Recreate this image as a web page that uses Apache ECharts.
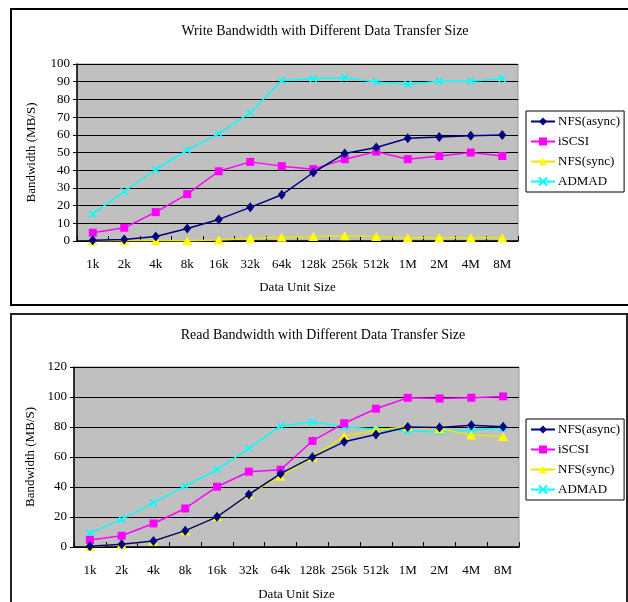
<!DOCTYPE html>
<html>
<head>
<meta charset="utf-8">
<script src="https://cdn.jsdelivr.net/npm/echarts@6/dist/echarts.min.js"></script>
<style>html,body{margin:0;padding:0;background:#fff;}#c{width:628px;height:602px;}</style>
</head>
<body>
<div id="c"></div>
<script>
const categories = ['1k','2k','4k','8k','16k','32k','64k','128k','256k','512k','1M','2M','4M','8M'];
const seriesNames = ['NFS(async)','iSCSI','NFS(sync)','ADMAD'];

// Write bandwidth (MB/S)
const writeNfsAsync = [0.4, 0.9, 2.6, 7.1, 12.2, 19.0, 26.1, 38.7, 49.4, 52.8, 58.0, 58.8, 59.5, 59.9];
const writeIscsi    = [4.7, 7.5, 16.3, 26.5, 39.4, 44.7, 42.3, 40.6, 46.2, 50.5, 46.2, 48.0, 50.0, 48.0];
const writeNfsSync  = [0.2, 0.3, 0.3, 0.2, 0.6, 1.5, 2.1, 2.6, 3.0, 2.6, 1.9, 1.9, 1.9, 1.9];
const writeAdmad    = [15.2, 28.0, 40.4, 51.3, 60.7, 72.5, 90.7, 91.7, 92.2, 89.8, 88.5, 90.3, 90.3, 91.7];

// Read bandwidth (MB/S)
const readNfsAsync = [0.5, 1.8, 4.0, 10.9, 20.1, 35.0, 48.9, 59.9, 70.1, 75.0, 80.0, 79.6, 81.1, 80.2];
const readIscsi    = [4.7, 7.5, 15.7, 25.7, 40.2, 50.2, 51.5, 70.7, 82.5, 92.2, 99.5, 99.0, 99.5, 100.4];
const readNfsSync  = [0.3, 1.8, 4.0, 10.9, 20.1, 35.0, 47.1, 59.9, 73.8, 78.0, 80.2, 78.9, 74.7, 73.6];
const readAdmad    = [9.1, 18.4, 29.4, 40.7, 51.5, 65.7, 80.7, 83.3, 80.2, 78.5, 77.4, 76.7, 77.8, 79.1];

const writeTicks = {min: 0, max: 100, interval: 10};
const readTicks = {min: 0, max: 120, interval: 20};

const FONT = '"Liberation Serif", "DejaVu Serif", serif';
const colors = ['#000080', '#FF00FF', '#FFFF00', '#00FFFF'];
const symbols = ['diamond', 'rect', 'triangle', 'path://M0,0L10,10M10,0L0,10'];
const symbolSizes = [[8, 10], 8, [10, 9], 7];

function mkSeries(name, idx, data, axisIdx) {
  const isX = idx === 3;
  return {
    name: name,
    type: 'line',
    xAxisIndex: axisIdx,
    yAxisIndex: axisIdx,
    data: data,
    symbol: symbols[idx],
    symbolSize: symbolSizes[idx],
    showAllSymbol: true,
    animation: false,
    z: 10 - idx,
    lineStyle: {color: idx === 2 ? '#E8E800' : colors[idx], width: 1.5},
    itemStyle: isX ? {color: 'rgba(0,0,0,0)', borderColor: colors[idx], borderWidth: 1.5}
                   : {color: colors[idx], borderWidth: 0},
    emphasis: {disabled: true}
  };
}

function mkX(gi) {
  return {
    type: 'category', gridIndex: gi, data: categories, boundaryGap: true,
    name: 'Data Unit Size', nameLocation: 'middle', nameGap: gi === 0 ? 40 : 41,
    nameTextStyle: {fontFamily: FONT, fontSize: 13, color: '#000'},
    axisLine: {show: true, lineStyle: {color: '#000', width: 1.5}},
    axisTick: {show: true, inside: true, length: 5, alignWithLabel: false, lineStyle: {color: '#000'}},
    axisLabel: {fontFamily: FONT, fontSize: 13, color: '#000', margin: 17, interval: 0},
    splitLine: {show: false}
  };
}

function mkY(gi, t) {
  return {
    type: 'value', gridIndex: gi, min: t.min, max: t.max, interval: t.interval,
    name: 'Bandwidth (MB/S)', nameLocation: 'middle', nameGap: gi === 0 ? 39 : 36,
    nameTextStyle: {fontFamily: FONT, fontSize: 13, color: '#000'},
    axisLine: {show: true, lineStyle: {color: '#000', width: 1.5}},
    axisTick: {show: true, length: 4, lineStyle: {color: '#000'}},
    axisLabel: {fontFamily: FONT, fontSize: 13, color: '#000', margin: 7},
    splitLine: {show: true, lineStyle: {color: '#000', width: 1}}
  };
}

function mkLegend(top) {
  return {
    orient: 'vertical', left: 526, top: top,
    data: seriesNames,
    itemWidth: 24, itemHeight: 10, itemGap: 7,
    padding: [4, 4, 4, 4],
    borderColor: '#000', borderWidth: 1, backgroundColor: '#fff',
    selectedMode: false,
    textStyle: {fontFamily: FONT, fontSize: 13, color: '#000', padding: [0, 0, 0, -2]}
  };
}

const chart = echarts.init(document.getElementById('c'), null, {renderer: 'canvas'});
chart.setOption({
  animation: false,
  backgroundColor: '#fff',
  title: [
    {text: 'Write Bandwidth with Different Data Transfer Size', left: 320, top: 19, textAlign: 'center',
     textStyle: {fontFamily: FONT, fontSize: 14, fontWeight: 'normal', color: '#000'}},
    {text: 'Read Bandwidth with Different Data Transfer Size', left: 318, top: 323, textAlign: 'center',
     textStyle: {fontFamily: FONT, fontSize: 14, fontWeight: 'normal', color: '#000'}}
  ],
  graphic: [
    {type: 'rect', shape: {x: 11, y: 9, width: 640, height: 296}, style: {fill: 'none', stroke: '#000', lineWidth: 2}, silent: true, z: -10},
    {type: 'rect', shape: {x: 11, y: 314, width: 616, height: 300}, style: {fill: 'none', stroke: '#222', lineWidth: 2}, silent: true, z: -10}
  ],
  grid: [
    {left: 77, top: 64, width: 441, height: 177, show: true, backgroundColor: '#C0C0C0', borderColor: '#9a9a9a', borderWidth: 1},
    {left: 74, top: 367, width: 445, height: 181, show: true, backgroundColor: '#C0C0C0', borderColor: '#9a9a9a', borderWidth: 1}
  ],
  legend: [mkLegend(111), mkLegend(419)],
  xAxis: [mkX(0), mkX(1)],
  yAxis: [mkY(0, writeTicks), mkY(1, readTicks)],
  series: [
    mkSeries(seriesNames[0], 0, writeNfsAsync, 0),
    mkSeries(seriesNames[1], 1, writeIscsi, 0),
    mkSeries(seriesNames[2], 2, writeNfsSync, 0),
    mkSeries(seriesNames[3], 3, writeAdmad, 0),
    mkSeries(seriesNames[0], 0, readNfsAsync, 1),
    mkSeries(seriesNames[1], 1, readIscsi, 1),
    mkSeries(seriesNames[2], 2, readNfsSync, 1),
    mkSeries(seriesNames[3], 3, readAdmad, 1)
  ]
});
</script>
</body>
</html>
